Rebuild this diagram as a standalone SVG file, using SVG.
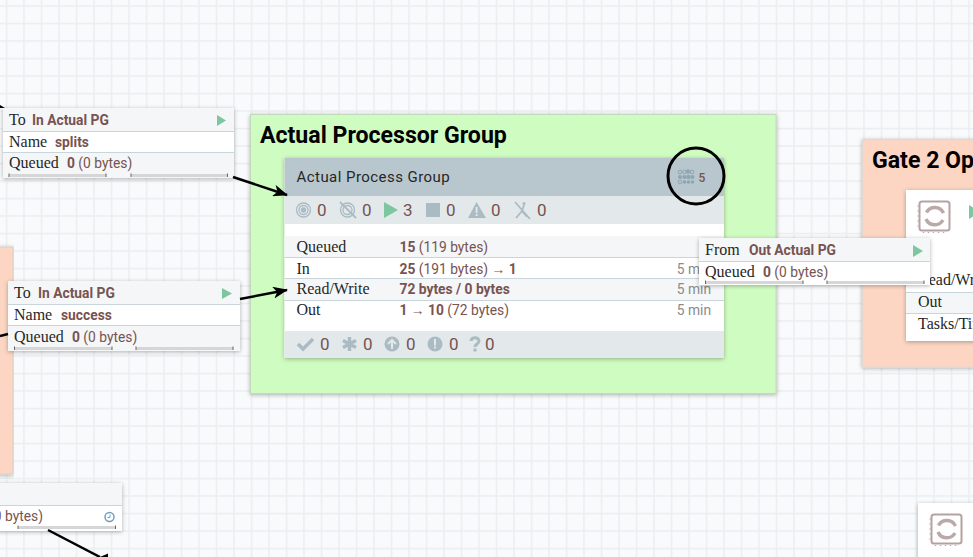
<svg xmlns="http://www.w3.org/2000/svg" width="973" height="557" viewBox="0 0 973 557">
<style>
.slab{font-family:"Liberation Serif","DejaVu Serif",serif;font-size:16px;fill:#262626}
.val{font-family:Roboto,"Liberation Sans",sans-serif;font-size:13.8px;fill:#775351}
.b{font-weight:700}
.n{font-family:Roboto,"Liberation Sans",sans-serif;font-size:17px;fill:#775351}
.t{font-family:Roboto,"Liberation Sans",sans-serif;font-size:23.1px;font-weight:700;fill:#000}
.ic{fill:#aabbc3}
.line{stroke:#000;stroke-width:2.5;fill:none}
.sep{stroke:#c8d5dc;stroke-width:1}
.bar{fill:#d6d6d6}
</style>
<defs>
<pattern id="grid" width="17.5" height="17.5" patternUnits="userSpaceOnUse" x="5.75" y="5.25">
<path d="M0 0H17.5V1.500H1.500V17.500H0Z" fill="#e9eef0"/>
</pattern>
<filter id="sh" x="-5%" y="-5%" width="110%" height="115%"><feDropShadow dx="0" dy="1" stdDeviation="2" flood-color="#000" flood-opacity="0.3"/></filter>
<marker id="arrow" markerWidth="16" markerHeight="12" refX="14" refY="6" orient="auto" markerUnits="userSpaceOnUse"><path d="M0 0L15 6L0 12L4 6Z" fill="#000"/></marker>
<g id="chip">
<rect x="1.500" y="1.500" width="30" height="29" rx="2.500" fill="#fff" stroke="#b5a2a2" stroke-width="2"/>
<path d="M0 6H-1M0 11H-1M0 16H-1M0 21H-1M0 26H-1M5 32V33M10 32V33M15 32V33M20 32V33M25 32V33" stroke="#b9a8b8" stroke-width="1.500" transform="translate(0.500 0)"/>
<path d="M8.500 12.500A9.500 9.500 0 0 1 25.500 13" fill="none" stroke="#bba9a9" stroke-width="3.500"/>
<path d="M25 20A9.500 9.500 0 0 1 8 19" fill="none" stroke="#bba9a9" stroke-width="3.500"/>
</g>
</defs>
<rect width="973" height="557" fill="#f9fafb"/>
<rect width="973" height="557" fill="url(#grid)"/>

<g id="gate-left"><rect x="-5" y="247" width="18" height="227" fill="#fcd5c3" stroke="#d8d0c8" filter="url(#sh)"/></g>

<g id="gate-2">
<rect x="862.500" y="139.500" width="120" height="227.500" fill="#fcd5c3" stroke="#e0d8d0" filter="url(#sh)"/>
<text x="872" y="168" class="t">Gate 2 Op</text>
<rect x="906" y="190" width="80" height="151" fill="#fff" filter="url(#sh)"/>
<use href="#chip" x="918" y="200"/>
<path d="M969 205L980 212L969 219Z" fill="#7dc7a0"/>
<rect x="906" y="293" width="80" height="20" fill="#f4f6f7"/>
<path d="M906 292.500H973M906 313.500H973" class="sep"/>
<text x="918" y="285" class="slab">Read/Write</text>
<text x="918" y="307" class="slab">Out</text>
<text x="918" y="329" class="slab">Tasks/Time</text>
</g>

<g id="actual-processor-group">
<rect x="250.500" y="114.500" width="525.500" height="279" fill="#cffcc0" stroke="#c4d8be" filter="url(#sh)"/>
<text x="260" y="143" class="t">Actual Processor Group</text>
</g>

<g id="actual-process-group">
<rect x="284.500" y="158" width="439.500" height="200" fill="#fff" filter="url(#sh)"/>
<rect x="284.500" y="158" width="439.500" height="38" fill="#b8c6cd"/>
<rect x="284.500" y="196" width="439.500" height="28" fill="#e3e8eb"/>
<rect x="284.500" y="236" width="439.500" height="21" fill="#f4f6f7"/>
<rect x="284.500" y="279" width="439.500" height="21" fill="#f4f6f7"/>
<rect x="284.500" y="331" width="439.500" height="27" fill="#e3e8eb"/>
<path d="M284.500 257.500H724M284.500 278.500H724M284.500 300.500H724" class="sep"/>
<text x="296.500" y="182" font-family="Roboto,'Liberation Sans',sans-serif" font-size="15px" letter-spacing="0.45" fill="#262626">Actual Process Group</text>
<g fill="#8fa6b1"><circle cx="680" cy="172" r="1.800" fill="none" stroke="#8fa6b1"/><circle cx="684.500" cy="172" r="1.800" fill="none" stroke="#8fa6b1"/><circle cx="688" cy="171.500" r="2.200"/><circle cx="692" cy="172" r="1.800" fill="none" stroke="#8fa6b1"/><circle cx="680" cy="177" r="2"/><circle cx="684.500" cy="177" r="2"/><circle cx="688.500" cy="177" r="2.200"/><circle cx="692.500" cy="177" r="2"/><circle cx="680" cy="182" r="1.800" fill="none" stroke="#8fa6b1"/><circle cx="684.500" cy="182" r="1.800"/><circle cx="688.500" cy="182" r="1.800"/><circle cx="692.500" cy="182" r="1.800"/></g>
<text x="698.500" y="181.500" class="val" style="font-size:12px;font-weight:500">5</text>

<g fill="none" stroke="#aabbc3" stroke-width="1.300"><circle cx="303.500" cy="210" r="7"/><circle cx="303.500" cy="210" r="4.500"/><circle cx="303.500" cy="210" r="2" fill="#aabbc3"/><circle cx="347.500" cy="210" r="7"/><circle cx="347.500" cy="210" r="4.500"/><path d="M340 202L356 218" stroke-width="1.800"/></g>
<text x="317" y="216" class="n">0</text>
<text x="362" y="216" class="n">0</text>
<path d="M384 202L398 210L384 218Z" fill="#7dc7a0"/>
<text x="403" y="216" class="n">3</text>
<rect x="426" y="203" width="14" height="14" class="ic"/>
<text x="446" y="216" class="n">0</text>
<path d="M476.500 202L486 218H468Z" class="ic"/><rect x="475.700" y="207" width="1.800" height="6" fill="#e3e8eb"/><rect x="475.700" y="214" width="1.800" height="2" fill="#e3e8eb"/>
<text x="491" y="216" class="n">0</text>
<path d="M515 202L530 219M524 205L522 211L516 218M522 211L527 217" fill="none" stroke="#aabbc3" stroke-width="1.800"/><circle cx="524" cy="203.500" r="1.500" class="ic"/>
<text x="537" y="216" class="n">0</text>

<text x="296.500" y="252" class="slab">Queued</text>
<text x="296.500" y="274" class="slab">In</text>
<text x="296.500" y="294" class="slab">Read/Write</text>
<text x="296.500" y="315" class="slab">Out</text>
<text x="399.500" y="252" class="val"><tspan class="b">15</tspan> (119 bytes)</text>
<text x="399.500" y="274" class="val"><tspan class="b">25</tspan> (191 bytes) → <tspan class="b">1</tspan></text>
<text x="399.500" y="294" class="val b">72 bytes / 0 bytes</text>
<text x="399.500" y="315" class="val"><tspan class="b">1</tspan> → <tspan class="b">10</tspan> (72 bytes)</text>
<text x="711" y="274" text-anchor="end" class="val" style="fill:#8a8a8a">5 min</text>
<text x="711" y="294" text-anchor="end" class="val" style="fill:#8a8a8a">5 min</text>
<text x="711" y="315" text-anchor="end" class="val" style="fill:#8a8a8a">5 min</text>

<path d="M298 344L303 349L313 339" fill="none" stroke="#aabbc3" stroke-width="3.500"/>
<text x="320" y="350" class="n">0</text>
<path d="M349.500 337V351M343 340.500L356 347.500M356 340.500L343 347.500" fill="none" stroke="#aabbc3" stroke-width="3.500"/>
<text x="363" y="350" class="n">0</text>
<circle cx="392" cy="344" r="7.500" class="ic"/><path d="M388 344L392 340L396 344M392 340V349" fill="none" stroke="#e3e8eb" stroke-width="2"/>
<text x="406" y="350" class="n">0</text>
<circle cx="435" cy="344" r="7.500" class="ic"/><rect x="434" y="339" width="2" height="6.500" fill="#e3e8eb"/><rect x="434" y="346.500" width="2" height="2" fill="#e3e8eb"/>
<text x="449" y="350" class="n">0</text>
<path d="M471 341C471 336.500 479 336.500 479 341C479 344 475 344 475 347" fill="none" stroke="#aabbc3" stroke-width="3"/><rect x="473.500" y="348.500" width="3" height="3" class="ic"/>
<text x="485" y="350" class="n">0</text>
</g>

<g id="port-splits">
<rect x="3" y="108" width="231" height="70" fill="#fff" filter="url(#sh)"/>
<rect x="3" y="108" width="231" height="23" fill="#f4f6f7"/>
<rect x="3" y="153" width="231" height="25" fill="#f4f6f7"/>
<path d="M3 131.500H234M3 152.500H234" class="sep"/>
<text x="9" y="125" class="slab">To</text><text x="32" y="125" class="val b">In Actual PG</text>
<path d="M217 115L226 120.500L217 126Z" fill="#7dc7a0"/>
<text x="9" y="147" class="slab">Name</text><text x="55" y="147" class="val b">splits</text>
<text x="9" y="168" class="slab">Queued</text><text x="67" y="168" class="val"><tspan class="b">0</tspan> (0 bytes)</text>
<rect x="9" y="174" width="97" height="3" class="bar"/><rect x="131" y="174" width="97" height="3" class="bar"/>
<path d="M9 173.500V177M106 173.500V177M131 173.500V177M227.500 173.500V177" stroke="#666"/>
</g>

<g id="port-success">
<rect x="8" y="281" width="232" height="70" fill="#fff" filter="url(#sh)"/>
<rect x="8" y="281" width="232" height="23" fill="#f4f6f7"/>
<rect x="8" y="326" width="232" height="25" fill="#f4f6f7"/>
<path d="M8 304.500H240M8 325.500H240" class="sep"/>
<text x="14" y="298" class="slab">To</text><text x="38" y="298" class="val b">In Actual PG</text>
<path d="M222 288L232 293.500L222 299Z" fill="#7dc7a0"/>
<text x="14" y="320" class="slab">Name</text><text x="61" y="320" class="val b">success</text>
<text x="14" y="342" class="slab">Queued</text><text x="72" y="342" class="val"><tspan class="b">0</tspan> (0 bytes)</text>
<rect x="14" y="347" width="98" height="3" class="bar"/><rect x="136" y="347" width="97" height="3" class="bar"/>
<path d="M14.500 346.500V350M112 346.500V350M136 346.500V350M233 346.500V350" stroke="#666"/>
</g>

<g id="port-out">
<rect x="699" y="238" width="231" height="47" fill="#fff" filter="url(#sh)"/>
<rect x="699" y="238" width="231" height="23" fill="#f4f6f7"/>
<path d="M699 261.500H930" class="sep"/>
<text x="705" y="255" class="slab">From</text><text x="749" y="255" class="val b">Out Actual PG</text>
<path d="M913 245L923 251L913 257Z" fill="#7dc7a0"/>
<text x="705" y="277" class="slab">Queued</text><text x="763" y="277" class="val"><tspan class="b">0</tspan> (0 bytes)</text>
<rect x="705" y="281" width="98" height="3" class="bar"/><rect x="827" y="281" width="97" height="3" class="bar"/>
<path d="M705.500 280.500V284M803 280.500V284M827 280.500V284M924 280.500V284" stroke="#666"/>
</g>

<g id="port-bottom-left">
<rect x="-5" y="483" width="127" height="48" fill="#fff" filter="url(#sh)"/>
<rect x="-5" y="483" width="127" height="22" fill="#f4f6f7"/>
<path d="M0 505.500H122" class="sep"/>
<text x="43" y="521" text-anchor="end" class="val">0 bytes)</text>
<circle cx="109.500" cy="517" r="4.500" fill="none" stroke="#6f9fbf" stroke-width="1.500"/><path d="M110 514.500V517.500H107.500" fill="none" stroke="#6f9fbf"/>
<rect x="18" y="526" width="98" height="3" class="bar"/>
<path d="M18 525.500V529M115.500 525.500V529" stroke="#666"/>
</g>

<g id="chip-bottom-right">
<rect x="918" y="503" width="70" height="60" fill="#fff" filter="url(#sh)"/>
<use href="#chip" x="930" y="513"/>
</g>

<g id="connectors">
<path d="M233 177L287 195" class="line" marker-end="url(#arrow)"/>
<path d="M240 299L287 290" class="line" marker-end="url(#arrow)"/>
<path d="M0 336L8 334" class="line"/>
<path d="M48 530L100 557" class="line"/>
<path d="M108 553.500V557H100Z" fill="#000"/>
<path d="M0 105L5 108L0 108Z" fill="#000"/>
</g>

<g id="highlight"><circle cx="696" cy="176" r="28" fill="none" stroke="#000" stroke-width="3"/></g>
</svg>
